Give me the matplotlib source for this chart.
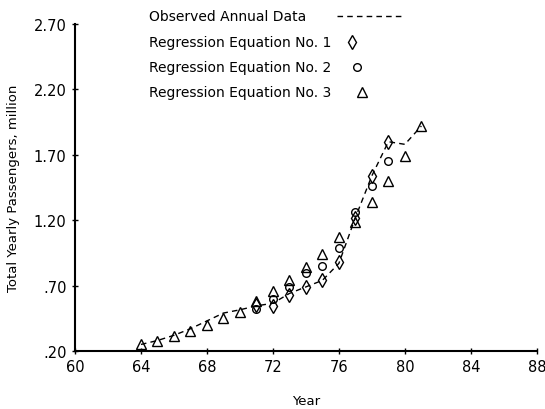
import matplotlib.pyplot as plt
from matplotlib.lines import Line2D

# observed annual ridership, million passengers
obs_years = [64, 65, 66, 67, 68, 69, 70, 71, 72, 73, 74, 75, 76, 77, 78, 79, 80, 81]
obs_vals = [0.25, 0.28, 0.32, 0.37, 0.43, 0.49, 0.515, 0.545, 0.565, 0.64,
            0.69, 0.74, 0.87, 1.22, 1.54, 1.80, 1.78, 1.92]

# regression equation no. 1 (diamonds)
eq1_years = [71, 72, 73, 74, 75, 76, 77, 78, 79]
eq1_vals = [0.55, 0.545, 0.63, 0.69, 0.74, 0.88, 1.22, 1.54, 1.80]

# regression equation no. 2 (circles)
eq2_years = [71, 72, 73, 74, 75, 76, 77, 78, 79]
eq2_vals = [0.52, 0.60, 0.69, 0.80, 0.85, 0.99, 1.26, 1.46, 1.65]

# regression equation no. 3 (triangles)
eq3_years = [64, 65, 66, 67, 68, 69, 70, 71, 72, 73, 74, 75, 76, 77, 78, 79, 80, 81]
eq3_vals = [0.25, 0.28, 0.315, 0.35, 0.40, 0.45, 0.50, 0.585, 0.655, 0.74,
            0.84, 0.94, 1.07, 1.185, 1.34, 1.50, 1.69, 1.92]

x_ticks = [60, 64, 68, 72, 76, 80, 84, 88]
y_ticks = [0.20, 0.70, 1.20, 1.70, 2.20, 2.70]
y_labels = ['.20', '.70', '1.20', '1.70', '2.20', '2.70']

fig = plt.figure(figsize=(5.45, 4.10), dpi=100)
ax = fig.add_axes([0.1376, 0.1415, 0.8474, 0.7975])

dash = (0, (4, 3))
ax.plot(obs_years, obs_vals, color='black', lw=1.0, linestyle=dash)
mk = dict(linestyle='none', markerfacecolor='none', markeredgecolor='black',
          markeredgewidth=1.0, clip_on=False)
ax.plot(eq1_years, eq1_vals, marker='d', markersize=7, **mk)
ax.plot(eq2_years, eq2_vals, marker='o', markersize=5.5, **mk)
ax.plot(eq3_years, eq3_vals, marker='^', markersize=6.5, **mk)

ax.set_xlim(60, 88)
ax.set_ylim(0.20, 2.70)
ax.set_xticks(x_ticks)
ax.set_yticks(y_ticks)
ax.set_yticklabels(y_labels)
ax.tick_params(direction='inout', length=5, width=1, labelsize=10.5, color='black')
for side in ['top', 'right']:
    ax.spines[side].set_visible(False)
for side in ['left', 'bottom']:
    ax.spines[side].set_linewidth(1.5)

ax.set_xlabel('Year', fontsize=9.5, labelpad=14)
ax.set_ylabel('Total Yearly Passengers, million', fontsize=9.5, labelpad=10)

# key in the upper part of the plot
rows = ['Observed Annual Data', 'Regression Equation No. 1',
        'Regression Equation No. 2', 'Regression Equation No. 3']
row_y = [17, 43, 68, 93]
W, H = 545.0, 410.0
for label, py in zip(rows, row_y):
    fig.text(149 / W, 1 - py / H, label, fontsize=10, va='center', ha='left')
fig.add_artist(Line2D([337 / W, 402 / W], [1 - 17 / H, 1 - 17 / H],
                      color='black', lw=1.0, linestyle=(0, (4, 3))))
key_marks = [('d', 7, 352, 43), ('o', 5.5, 357, 68), ('^', 6.5, 362, 93)]
for m, ms, px, py in key_marks:
    fig.add_artist(Line2D([px / W], [1 - py / H], marker=m, markersize=ms,
                          markerfacecolor='none', markeredgecolor='black',
                          markeredgewidth=1.0, linestyle='none'))

fig.savefig('out.png', dpi=100)
